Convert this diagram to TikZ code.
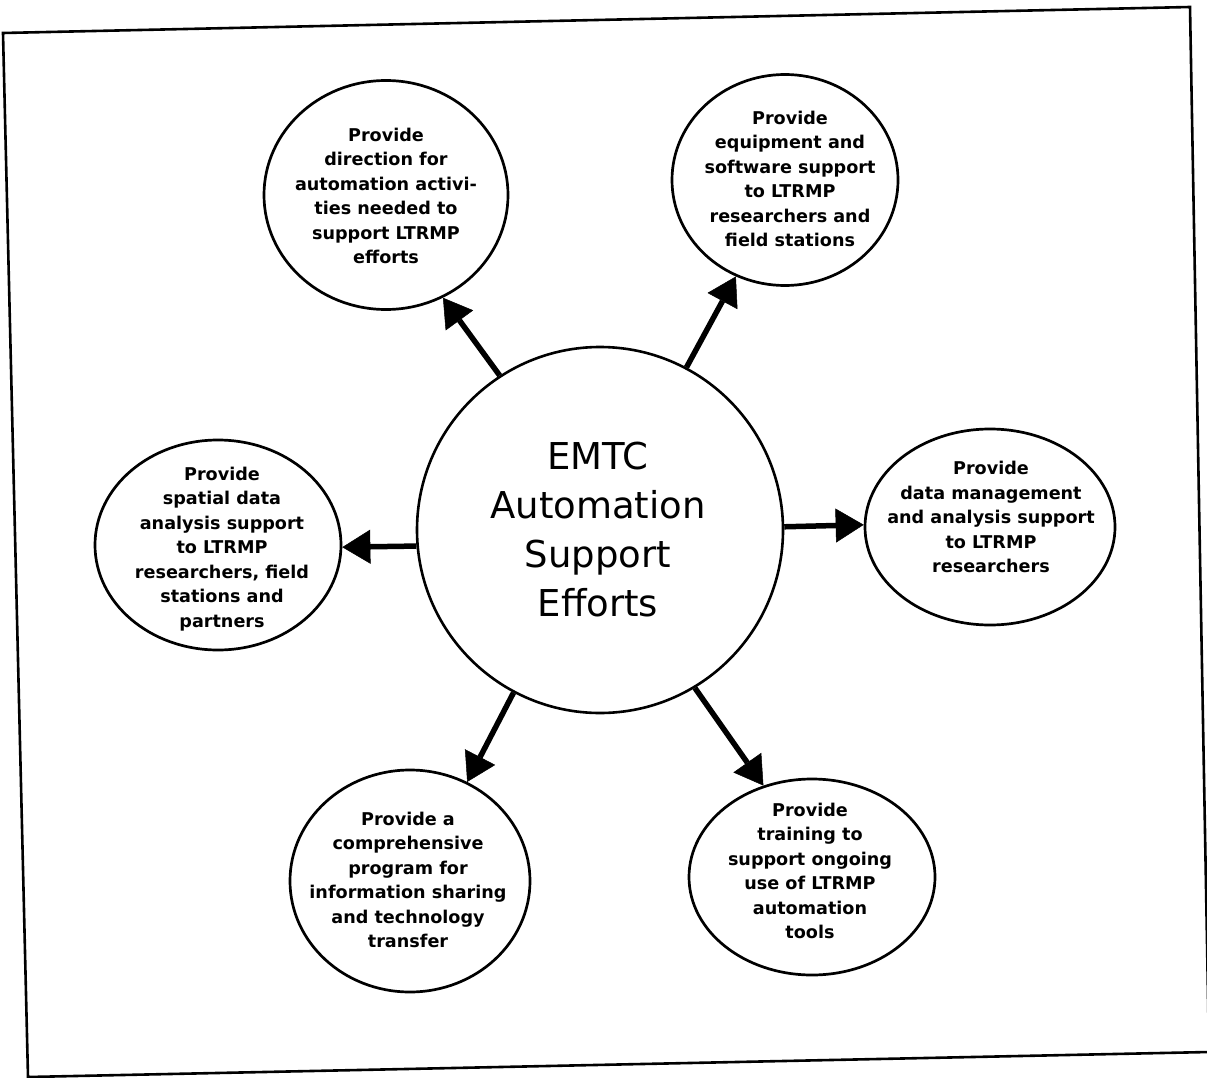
\documentclass[tikz,border=0pt]{standalone}
\usepackage{fontspec}
\setmainfont{DejaVu Sans}
\usetikzlibrary{shapes.geometric,arrows.meta}
\tikzset{
  frameline/.style={line width=2.6pt, line join=miter},
  sat/.style={draw, ellipse, line width=2.7pt, inner sep=0pt},
  hub/.style={draw, circle, line width=2.6pt, inner sep=0pt, minimum size=366pt},
  sattext/.style={align=center, font=\fontsize{17.6}{24.5}\selectfont\bfseries, inner sep=0pt},
  hubtext/.style={align=center, font=\fontsize{37}{49}\selectfont, inner sep=0pt},
  bigtip/.tip={Triangle[length=28pt,width=34pt,line width=0.5pt,fill=black]},
  link/.style={line width=5.5pt, arrows={-bigtip}}
}
\begin{document}
\begin{tikzpicture}[x=1pt,y=-1pt]
\useasboundingbox (0,0) rectangle (1207,1078);
\coordinate (f1) at (3,33);
\coordinate (f2) at (1190,7);
\coordinate (f3) at (1209,1052);
\coordinate (f4) at (28,1077);
\draw[frameline] (f1) -- (f2) -- (f3) -- (f4) -- cycle;

\node[hub] (c) at (600,530) {};
\node[hubtext] (ct) at (598,530) {EMTC\\Automation\\Support\\Efforts};

\node[sat, minimum width=244pt, minimum height=229pt] (tl) at (386,195) {};
\node[sat, minimum width=226pt, minimum height=211pt] (tr) at (785,180) {};
\node[sat, minimum width=246pt, minimum height=210pt] (l) at (218,545) {};
\node[sat, minimum width=250pt, minimum height=196pt] (r) at (990,527) {};
\node[sat, minimum width=240pt, minimum height=222pt] (bl) at (410,881) {};
\node[sat, minimum width=246pt, minimum height=196pt] (br) at (812,877) {};

\node[sattext] (tlt) at (386,196) {Provide\\direction for\\automation activi-\\ties needed to\\support LTRMP\\efforts};
\node[sattext] (trt) at (790,179) {Provide\\equipment and\\software support\\to LTRMP\\researchers and\\field stations};
\node[sattext] (lt) at (222,549) {Provide\\spatial data\\analysis support\\to LTRMP\\researchers, field\\stations and\\partners};
\node[sattext] (rt) at (991,517) {Provide\\data management\\and analysis support\\to LTRMP\\researchers};
\node[sattext] (blt) at (408,880) {Provide a\\comprehensive\\program for\\information sharing\\and technology\\transfer};
\node[sattext] (brt) at (810,871) {Provide\\training to\\support ongoing\\use of LTRMP\\automation\\tools};

\draw[link] (c.123) -- (tl.299);
\draw[link] (c.62) -- (tr.243);
\draw[link] (c.185) -- (l.359);
\draw[link] (c.1) -- (r.179);
\draw[link] (c.242) -- (bl.60);
\draw[link] (c.301) -- (br.118);
\end{tikzpicture}
\end{document}
